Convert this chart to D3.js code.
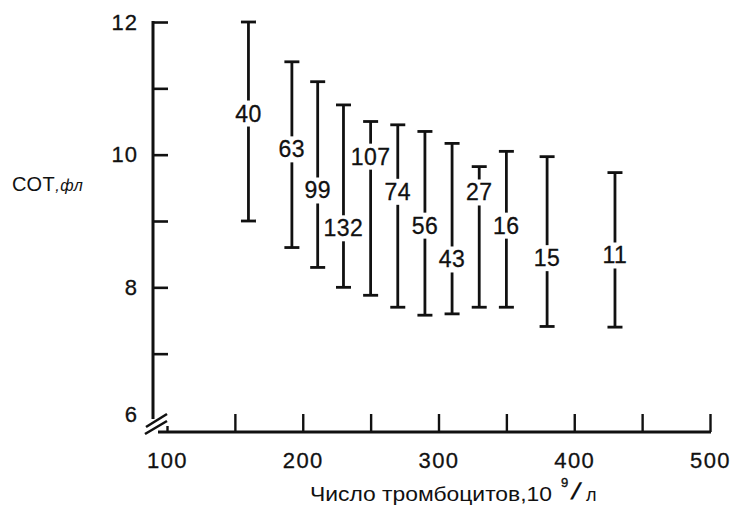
<!DOCTYPE html>
<html>
<head>
<meta charset="utf-8">
<script src="https://cdn.jsdelivr.net/npm/d3@7/dist/d3.min.js"></script>
<style>
  html, body { margin: 0; padding: 0; background: #fff; }
  svg { display: block; }
  text { font-family: "Liberation Sans", Arial, sans-serif; fill: #111; }
</style>
</head>
<body>
<svg id="chart" width="736" height="506"></svg>
<script>
// ---- data ----
const counts   = ["40", "63", "99", "132", "107", "74", "56", "43", "27", "16", "15", "11"];
const platelet = [160, 192, 211, 230, 250, 270, 290, 310, 330, 350, 380, 430];
const mpvHigh  = [12.0, 11.4, 11.1, 10.75, 10.5, 10.45, 10.35, 10.17, 9.82, 10.05, 9.97, 9.73];
const mpvLow   = [9.0, 8.6, 8.3, 8.0, 7.88, 7.7, 7.58, 7.6, 7.7, 7.7, 7.41, 7.4];
const labelAt  = [10.62, 10.08, 9.46, 8.89, 9.97, 9.44, 8.93, 8.42, 9.43, 8.93, 8.44, 8.48];
const xTicks   = [100, 150, 200, 250, 300, 350, 400, 450, 500];
const xLabels  = [100, 200, 300, 400, 500];
const yTicks   = [6, 7, 8, 9, 10, 11, 12];
const yLabels  = [6, 8, 10, 12];

const svg = d3.select("#chart");
const x = d3.scaleLinear().domain([100, 500]).range([167, 710]);
const y = d3.scaleLinear().domain([6, 12]).range([420, 22]);
const axisY0 = 432;   // baseline of the (broken) x-axis
const axisX0 = 153;   // position of the y-axis

const ink = "#111";

// ---- y axis ----
const yAxis = d3.axisLeft(y)
  .tickValues(yTicks)
  .tickSizeInner(-15)
  .tickSizeOuter(0)
  .tickPadding(15)
  .tickFormat(d => yLabels.includes(d) ? d : "");
const gy = svg.append("g").attr("transform", `translate(${axisX0},0)`).call(yAxis);
gy.select(".domain").remove();
gy.selectAll(".tick line").attr("stroke", ink).attr("stroke-width", 2.6)
  .filter(d => d === 6).remove();
gy.selectAll(".tick text").attr("font-size", 22).attr("letter-spacing", 1)
  .attr("font-family", "'Liberation Sans', Arial, sans-serif")
  .attr("stroke", ink).attr("stroke-width", 0.3)
  .filter(d => d === 6).attr("dy", "0.05em");
svg.append("line").attr("x1", axisX0).attr("x2", axisX0)
  .attr("y1", y(12) - 1).attr("y2", 419)
  .attr("stroke", ink).attr("stroke-width", 3);

// ---- x axis ----
const xAxis = d3.axisBottom(x)
  .tickValues(xTicks)
  .tickSizeInner(-18)
  .tickSizeOuter(0)
  .tickPadding(20)
  .tickFormat(d => xLabels.includes(d) ? d : "");
const gx = svg.append("g").attr("transform", `translate(0,${axisY0})`).call(xAxis);
gx.select(".domain").remove();
gx.selectAll(".tick line").attr("stroke", ink).attr("stroke-width", 2.4)
  .filter(d => d === 100).attr("y2", -6);
gx.selectAll(".tick text").attr("font-size", 22).attr("letter-spacing", 1.5)
  .attr("font-family", "'Liberation Sans', Arial, sans-serif")
  .attr("stroke", ink).attr("stroke-width", 0.3);
svg.append("line").attr("x1", 158).attr("x2", x(500) + 1)
  .attr("y1", axisY0).attr("y2", axisY0)
  .attr("stroke", ink).attr("stroke-width", 3);

// axis break marks
svg.append("line").attr("x1", 146).attr("y1", 427).attr("x2", 167).attr("y2", 414)
  .attr("stroke", ink).attr("stroke-width", 2.6);
svg.append("line").attr("x1", 145).attr("y1", 434).attr("x2", 167).attr("y2", 421)
  .attr("stroke", ink).attr("stroke-width", 2.6);

// ---- axis titles ----
const yt = svg.append("text").attr("x", 12).attr("y", 191).attr("font-size", 20)
  .attr("letter-spacing", 0.5);
yt.append("tspan").text("СОТ");
yt.append("tspan").attr("font-size", 16).attr("font-style", "italic").text(",фл");

svg.append("text").attr("x", 310).attr("y", 501).attr("font-size", 20)
  .attr("textLength", 242).attr("lengthAdjust", "spacingAndGlyphs")
  .text("Число тромбоцитов,10");
svg.append("text").attr("x", 561).attr("y", 487).attr("font-size", 13)
  .attr("stroke", ink).attr("stroke-width", 0.4).text("9");
svg.append("text").attr("transform", "translate(570,499) skewX(-20)")
  .attr("font-size", 23).attr("font-weight", "bold").text("/");
svg.append("text").attr("x", 586).attr("y", 501).attr("font-size", 18).text("л");

// ---- range bars ----
const rows = counts.map((c, i) => ({
  n: c, x: platelet[i], hi: mpvHigh[i], lo: mpvLow[i], lab: labelAt[i]
}));
const gap = 13;
const capW = 7.5;
const g = svg.append("g").attr("stroke", ink).attr("stroke-width", 2.8);
rows.forEach(r => {
  const cx = x(r.x), yt0 = y(r.hi), yb = y(r.lo), yl = y(r.lab);
  g.append("line").attr("x1", cx).attr("x2", cx).attr("y1", yt0).attr("y2", yl - gap);
  g.append("line").attr("x1", cx).attr("x2", cx).attr("y1", yl + gap).attr("y2", yb);
  g.append("line").attr("x1", cx - capW).attr("x2", cx + capW).attr("y1", yt0).attr("y2", yt0);
  g.append("line").attr("x1", cx - capW).attr("x2", cx + capW).attr("y1", yb).attr("y2", yb);
});
svg.append("g").selectAll("text").data(rows).join("text")
  .attr("x", d => x(d.x)).attr("y", d => y(d.lab))
  .attr("text-anchor", "middle").attr("dominant-baseline", "central")
  .attr("font-size", 23).attr("letter-spacing", 0.5)
  .attr("stroke", ink).attr("stroke-width", 0.3)
  .text(d => d.n);
</script>
</body>
</html>
